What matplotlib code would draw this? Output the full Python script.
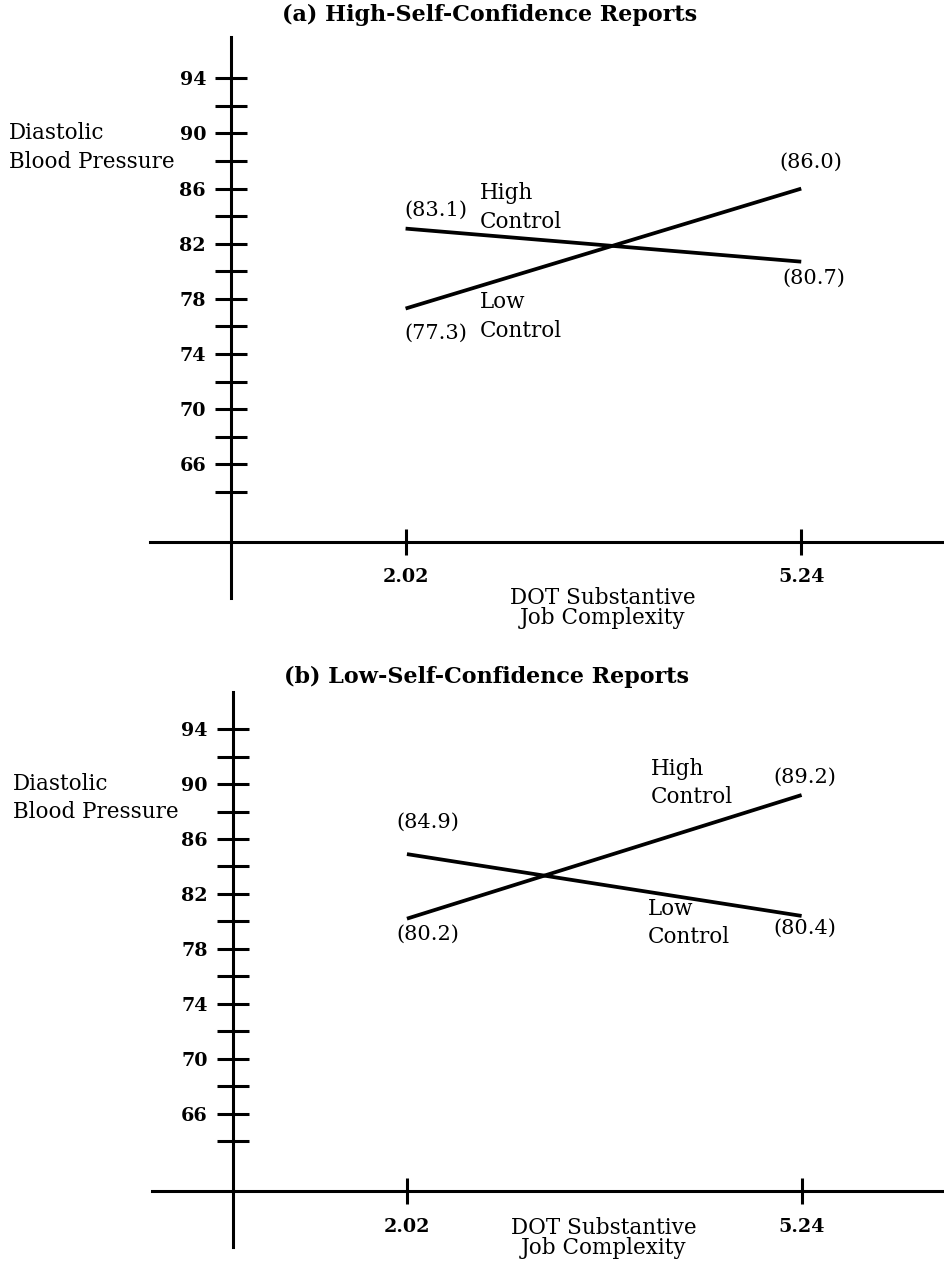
import matplotlib
matplotlib.use("Agg")
import matplotlib.pyplot as plt

# Data
complexity = [2.02, 5.24]
a_high_control = [83.1, 80.7]
a_low_control = [77.3, 86.0]
b_high_control = [80.2, 89.2]
b_low_control = [84.9, 80.4]
major_ticks = [66, 70, 74, 78, 82, 86, 90, 94]
minor_ticks = [64, 68, 72, 76, 80, 84, 88, 92]

W, H = 945, 1262
fig = plt.figure(figsize=(W / 100, H / 100), dpi=100)
serif = "DejaVu Serif"
body = 15.5


def px(x, y):
    return x / W, 1 - y / H


def setup_axes(rect_px, ylim_top):
    l, t, r, b = rect_px
    ax = fig.add_axes([l / W, 1 - b / H, (r - l) / W, (b - t) / H])
    ax.set_xlim(-0.06, 6.41)
    ax.set_ylim(56.3, ylim_top)
    for s in ["top", "right"]:
        ax.spines[s].set_visible(False)
    ax.spines["left"].set_position(("data", 0.6))
    ax.spines["bottom"].set_position(("data", 60.35))
    ax.spines["left"].set_linewidth(2.2)
    ax.spines["bottom"].set_linewidth(2.2)
    ax.set_yticks(major_ticks)
    ax.set_yticks(minor_ticks, minor=True)
    ax.set_xticks(complexity)
    ax.set_xticklabels([f"{v:.2f}" for v in complexity])
    ax.tick_params(axis="y", which="both", direction="inout", length=23, width=2.2, pad=6.5)
    ax.tick_params(axis="x", direction="inout", length=18.7, width=2.2, pad=9.5)
    for lab in ax.get_xticklabels() + ax.get_yticklabels():
        lab.set_fontfamily(serif)
        lab.set_fontweight("bold")
        lab.set_fontsize(13.8)
    ax.patch.set_alpha(0)
    return ax


def value_label(ax, x, y, dx, dy):
    ax.annotate(f"({y:.1f})", xy=(x, y), xytext=(dx, dy), textcoords="offset pixels",
                ha="center", va="center", fontsize=15, family=serif)


def group_label(ax, text, x, y, dx, dy):
    ax.annotate(text, xy=(x, y), xytext=(dx, dy), textcoords="offset pixels",
                ha="left", va="center", fontsize=body, family=serif, linespacing=1.38)


# ---- Panel (a)
ax1 = setup_axes((150, 37, 945, 598), 97.0)
ax1.plot(complexity, a_high_control, color="black", lw=2.7, solid_capstyle="butt")
ax1.plot(complexity, a_low_control, color="black", lw=2.7, solid_capstyle="butt")
value_label(ax1, complexity[0], a_high_control[0], 30, 18)
value_label(ax1, complexity[0], a_low_control[0], 30, -25)
value_label(ax1, complexity[1], a_low_control[1], 10, 26)
value_label(ax1, complexity[1], a_high_control[1], 13, -17)
group_label(ax1, "High\nControl", complexity[0], a_high_control[0], 74, 21)
group_label(ax1, "Low\nControl", complexity[0], a_low_control[0], 74, -8)

fig.text(*px(490, 15), "(a) High-Self-Confidence Reports", ha="center", va="center",
         fontsize=16, family=serif, weight="bold")
fig.text(*px(9, 147.5), "Diastolic\nBlood Pressure", ha="left", va="center",
         fontsize=body, family=serif, linespacing=1.4)
fig.text(*px(603, 608), "DOT Substantive\nJob Complexity", ha="center", va="center",
         fontsize=body, family=serif, linespacing=0.9)

# ---- Panel (b)
ax2 = setup_axes((152, 692, 945, 1247), 96.7)
ax2.plot(complexity, b_high_control, color="black", lw=2.7, solid_capstyle="butt")
ax2.plot(complexity, b_low_control, color="black", lw=2.7, solid_capstyle="butt")
value_label(ax2, complexity[0], b_low_control[0], 21, 32)
value_label(ax2, complexity[0], b_high_control[0], 21, -16)
value_label(ax2, complexity[1], b_high_control[1], 3, 18)
value_label(ax2, complexity[1], b_low_control[1], 3, -12)
group_label(ax2, "High\nControl", complexity[1], b_high_control[1], -151, 12)
group_label(ax2, "Low\nControl", complexity[1], b_low_control[1], -154, -7)

fig.text(*px(487, 677), "(b) Low-Self-Confidence Reports", ha="center", va="center",
         fontsize=16, family=serif, weight="bold")
fig.text(*px(13, 798), "Diastolic\nBlood Pressure", ha="left", va="center",
         fontsize=body, family=serif, linespacing=1.4)
fig.text(*px(604, 1238), "DOT Substantive\nJob Complexity", ha="center", va="center",
         fontsize=body, family=serif, linespacing=0.9)

fig.savefig("out.png", dpi=100)
